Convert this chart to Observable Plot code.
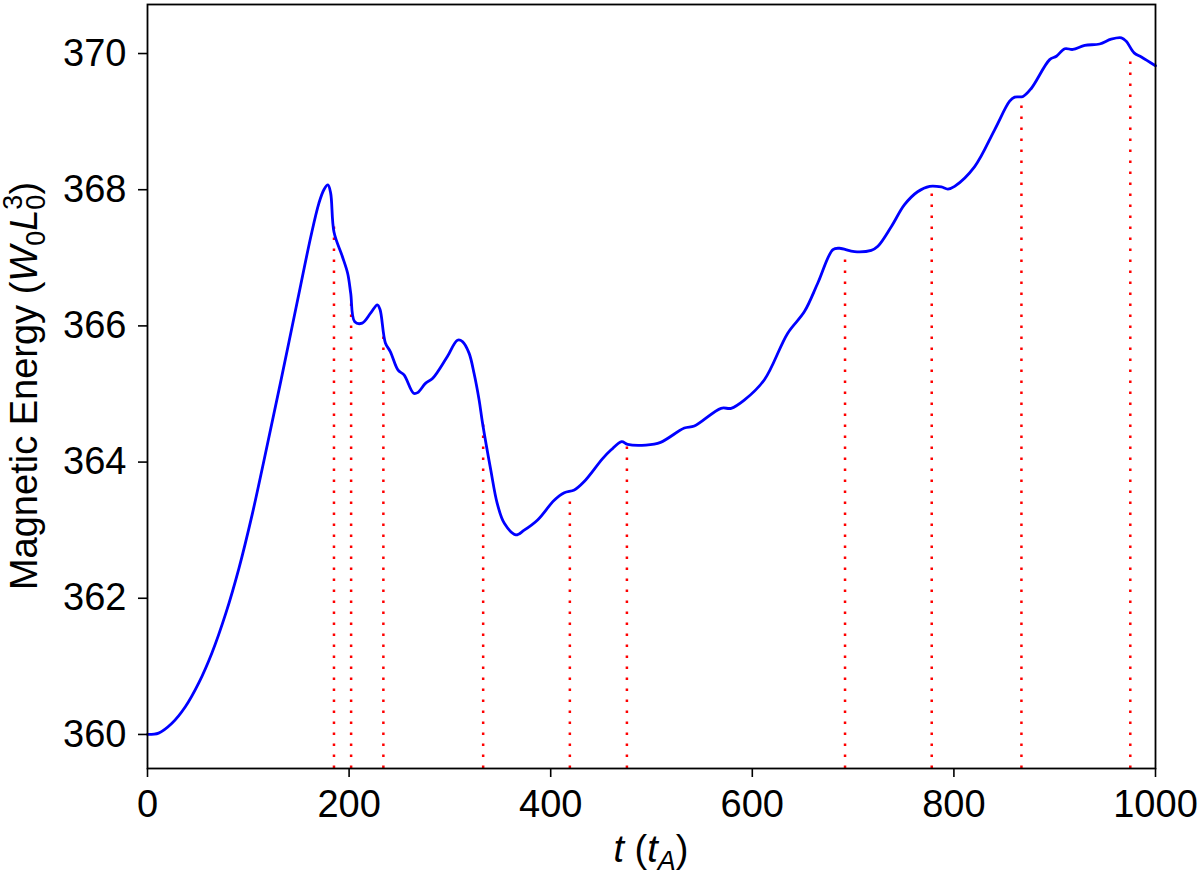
<!DOCTYPE html>
<html><head><meta charset="utf-8">
<script src="https://cdn.jsdelivr.net/npm/d3@7"></script>
<script src="https://cdn.jsdelivr.net/npm/@observablehq/plot@0.6"></script>
<style>body{margin:0;background:#fff}</style>
</head><body><div id="chart"></div>
<script>
const time = [0,11,24,37.7,51,64,77.5,90.7,104,115.5,132,152,162,170,175,179,181.7,185,193.3,198.6,201.6,205.6,213,221.5,228,230.7,236,241,248.6,254.5,264,268,276,283,297.5,307.5,312.5,319,324,329,332.4,340.6,347,354,365.4,373.7,387,403.5,413.5,423.4,433,451.5,460,470.4,476.3,494.5,509,532.6,542.5,569,579,592,612,635,651.7,665,680,686.6,701.4,718,724.6,738,751,764,776,787.5,794,800.7,820.6,840.4,855.3,860.3,868.6,876.9,895,901.7,910,918,929.8,944.6,956,966.2,971,978.8,986,1000];
const energy = [360,360.02,360.16,360.41,360.76,361.2,361.77,362.44,363.24,364.02,365.17,366.6,367.31,367.8,368.0,368.07,367.95,367.38,367.02,366.77,366.48,366.06,366.04,366.19,366.31,366.24,365.75,365.62,365.35,365.28,365.01,365.02,365.16,365.23,365.55,365.79,365.77,365.6,365.3,364.91,364.57,363.88,363.39,363.1,362.93,363.0,363.15,363.44,363.55,363.59,363.71,364.05,364.18,364.3,364.26,364.25,364.29,364.5,364.53,364.79,364.79,364.91,365.21,365.89,366.21,366.63,367.12,367.14,367.09,367.11,367.17,367.46,367.78,367.97,368.05,368.04,368.01,368.05,368.34,368.88,369.3,369.36,369.37,369.49,369.91,369.96,370.07,370.06,370.12,370.14,370.21,370.23,370.18,370.01,369.95,369.82];
const eventTimes = [185,202,234,333,419,475.6,692,778,867,975];
const eventEnergy = [367.48,366.4,365.9,364.57,363.5,364.25,367.02,368.0,369.32,369.96];
const xTicks = [0,200,400,600,800,1000];
const yTicks = [360,362,364,366,368,370];
const xDomain = [0,1000];
const yDomain = [359.5,370.72];

const curveData = time.map((t,i)=>({t, e: energy[i]}));
const events = eventTimes.map((t,i)=>({t, e: eventEnergy[i]}));

const ff = "'Liberation Sans', Arial, sans-serif";
const plot = Plot.plot({
  width:1200, height:876,
  marginLeft:147, marginRight:45, marginTop:4, marginBottom:108,
  style:{fontFamily:ff, fontSize:"38px", color:"black", background:"white", overflow:"visible"},
  x:{domain:xDomain},
  y:{domain:yDomain},
  marks:[
    Plot.ruleX(events,{x:"t", y1:()=>yDomain[0], y2:"e", stroke:"#ff0000", strokeWidth:2.5, strokeDasharray:"2.5,8.5"}),
    Plot.line(curveData,{x:"t", y:"e", stroke:"#0000ff", strokeWidth:2.8, curve:"catmull-rom"}),
    Plot.frame({stroke:"black", strokeWidth:1.8}),
    Plot.axisX({ticks:xTicks, tickSize:9, tickPadding:13, label:null, fontSize:38, strokeWidth:1.6, tickFormat:d=>String(d)}),
    Plot.axisY({ticks:yTicks, tickSize:9, tickPadding:12, label:null, fontSize:38, strokeWidth:1.6, tickFormat:d=>String(d)})
  ]
});
document.getElementById("chart").appendChild(plot);

const svg = d3.select(plot);
// x label
const xl = svg.append("text").attr("x",651).attr("y",862).attr("text-anchor","middle")
  .attr("font-size",38).attr("font-family",ff).attr("fill","black");
xl.append("tspan").attr("font-style","italic").text("t");
xl.append("tspan").text(" (");
xl.append("tspan").attr("font-style","italic").text("t");
xl.append("tspan").attr("font-style","italic").attr("font-size",27).attr("dy",8).text("A");
xl.append("tspan").attr("dy",-8).text(")");
// y label
const yl = svg.append("text").attr("transform","translate(37,386) rotate(-90)").attr("text-anchor","middle")
  .attr("font-size",38).attr("font-family",ff).attr("fill","black");
yl.append("tspan").text("Magnetic Energy (");
yl.append("tspan").attr("font-style","italic").text("W");
yl.append("tspan").attr("font-size",27).attr("dy",8).text("0");
yl.append("tspan").attr("font-style","italic").attr("dy",-8).text("L");
yl.append("tspan").attr("font-size",27).attr("dy",8).text("0");
yl.append("tspan").attr("font-size",27).attr("dx",-15).attr("dy",-23).text("3");
yl.append("tspan").attr("dy",15).text(")");
</script>
</body></html>
